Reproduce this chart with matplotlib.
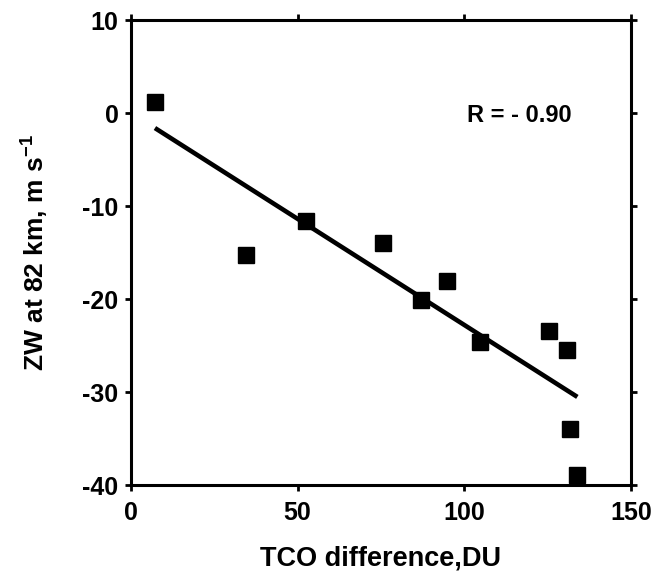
import matplotlib
matplotlib.use("Agg")
import matplotlib.pyplot as plt

# Data
tco_diff = [7.2, 34.4, 52.4, 75.7, 94.7, 87.0, 104.7, 125.5, 130.9, 131.7, 133.9]
zw_82km = [1.2, -15.2, -11.6, -14.0, -18.0, -20.1, -24.6, -23.4, -25.5, -33.9, -38.9]
fit_x = [7.2, 133.9]
fit_y = [-1.6, -30.5]
x_ticks = [0, 50, 100, 150]
y_ticks = [-40, -30, -20, -10, 0, 10]

plt.rcParams["font.family"] = ["Liberation Sans", "DejaVu Sans"]
plt.rcParams["font.weight"] = "bold"
plt.rcParams["axes.unicode_minus"] = False
plt.rcParams["mathtext.fontset"] = "custom"
plt.rcParams["mathtext.rm"] = "Liberation Sans:bold"
plt.rcParams["mathtext.bf"] = "Liberation Sans:bold"

fig = plt.figure(figsize=(6.58, 5.75), dpi=100)
ax = fig.add_axes([0.199, 0.156, 0.760, 0.809])

ax.plot(fit_x, fit_y, color="black", linewidth=3.3, solid_capstyle="butt", zorder=2)
ax.plot(tco_diff, zw_82km, linestyle="none", marker="s", markersize=12,
        color="black", zorder=3)

ax.set_xlim(0, 150)
ax.set_ylim(-40, 10)
ax.set_xticks(x_ticks)
ax.set_yticks(y_ticks)
ax.tick_params(axis="both", which="both", direction="out", length=4, width=2,
               labelsize=18, top=True, right=True)
ax.tick_params(axis="x", pad=7)
ax.tick_params(axis="y", pad=5)
for label in ax.get_xticklabels() + ax.get_yticklabels():
    label.set_fontweight("bold")
for spine in ax.spines.values():
    spine.set_linewidth(2.2)

ax.set_xlabel("TCO difference,DU", fontsize=19.5, fontweight="bold")
ax.set_ylabel(r"ZW at 82 km, m s$^{\mathbf{-1}}$", fontsize=19, fontweight="bold")
ax.xaxis.set_label_coords(0.499, -0.13)
ax.yaxis.set_label_coords(-0.162, 0.5)

ax.text(100.8, -0.2, "R = - 0.90", fontsize=17, fontweight="bold", va="center", ha="left")

fig.savefig("out.png", dpi=100)
